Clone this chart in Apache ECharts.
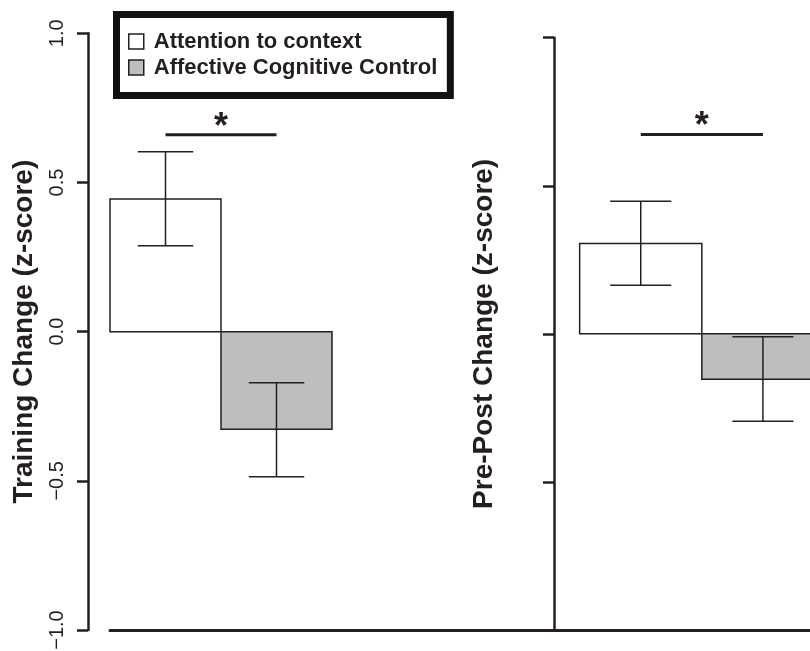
<!DOCTYPE html>
<html>
<head>
    <meta charset="utf-8">
    <title>Training and Pre-Post Change</title>
    <script src="https://cdn.jsdelivr.net/npm/echarts@6/dist/echarts.min.js"></script>
    <style>
        html, body { margin: 0; padding: 0; background: #fff; }
        #main { width: 810px; height: 651px; }
    </style>
</head>
<body>
    <div id="main"></div>
    <script type="text/javascript">
        // groups (legend order) and values
        var groups = ['Attention to context', 'Affective Cognitive Control'];

        var trainMean = [0.445, -0.327];
        var trainLow = [0.288, -0.486];
        var trainHigh = [0.603, -0.171];

        var prePostMean = [0.305, -0.153];
        var prePostLow = [0.164, -0.295];
        var prePostHigh = [0.448, -0.010];

        // significance bars: [from group, to group, height]
        var trainSig = [[0, 1, 0.66]];
        var prePostSig = [[0, 1, 0.673]];

        var yTicks = [-1, -0.5, 0, 0.5, 1];

        // styles
        var ink = '#231f20';
        var fills = ['#ffffff', '#bcbec0'];
        var font = 'Liberation Sans, Arial, Helvetica, sans-serif';

        var myChart = echarts.init(document.getElementById('main'));

        function barItem(params, api) {
            var x = api.value(0);
            var base = api.coord([x, 0]);
            var top = api.coord([x + 1, api.value(1)]);
            var lo = api.coord([x + 0.5, api.value(2)]);
            var hi = api.coord([x + 0.5, api.value(3)]);
            var capL = api.coord([x + 0.25, 0])[0];
            var capR = api.coord([x + 0.75, 0])[0];
            var errStyle = { stroke: ink, lineWidth: 1.5 };
            return {
                type: 'group',
                children: [
                    {
                        type: 'rect',
                        shape: {
                            x: base[0], y: Math.min(base[1], top[1]),
                            width: top[0] - base[0], height: Math.abs(top[1] - base[1])
                        },
                        style: { fill: fills[x], stroke: ink, lineWidth: 1.5 }
                    },
                    { type: 'line', shape: { x1: lo[0], y1: lo[1], x2: hi[0], y2: hi[1] }, style: errStyle },
                    { type: 'line', shape: { x1: capL, y1: lo[1], x2: capR, y2: lo[1] }, style: errStyle },
                    { type: 'line', shape: { x1: capL, y1: hi[1], x2: capR, y2: hi[1] }, style: errStyle }
                ]
            };
        }

        function sigItem(params, api) {
            var a = api.coord([api.value(0) + 0.5, api.value(2)]);
            var b = api.coord([api.value(1) + 0.5, api.value(2)]);
            return {
                type: 'group',
                children: [
                    { type: 'line', shape: { x1: a[0], y1: a[1], x2: b[0], y2: b[1] },
                      style: { stroke: ink, lineWidth: 3 } },
                    { type: 'text', x: (a[0] + b[0]) / 2, y: a[1] - 7,
                      style: { text: '*', fill: ink, font: 'bold 36px ' + font,
                               align: 'center', verticalAlign: 'middle' } }
                ]
            };
        }

        function rows(mean, low, high, g) {
            return [[g, mean[g], low[g], high[g]]];
        }

        var yBase = {
            type: 'value',
            min: yTicks[0],
            max: yTicks[yTicks.length - 1],
            interval: yTicks[1] - yTicks[0],
            splitLine: { show: false },
            axisLine: { show: true, onZero: false, lineStyle: { color: ink, width: 2.5 } },
            axisTick: { show: true, length: 11, lineStyle: { color: ink, width: 2.5 } },
            nameLocation: 'middle',
            nameRotate: 90,
            nameMoveOverlap: false,
            nameTextStyle: { color: ink, fontSize: 28, fontWeight: 'bold', fontFamily: font }
        };

        var xBase = {
            type: 'value',
            splitLine: { show: false },
            axisLabel: { show: false },
            axisTick: { show: false },
            axisLine: { show: true, onZero: false, lineStyle: { color: ink, width: 3 } }
        };

        var series = [];
        [0, 1].forEach(function (g) {
            series.push({
                type: 'custom', name: groups[g], xAxisIndex: 0, yAxisIndex: 0,
                renderItem: barItem, data: rows(trainMean, trainLow, trainHigh, g)
            });
            series.push({
                type: 'custom', name: groups[g], xAxisIndex: 1, yAxisIndex: 1,
                renderItem: barItem, data: rows(prePostMean, prePostLow, prePostHigh, g)
            });
        });
        series.push({ type: 'custom', xAxisIndex: 0, yAxisIndex: 0, renderItem: sigItem, data: trainSig });
        series.push({ type: 'custom', xAxisIndex: 1, yAxisIndex: 1, renderItem: sigItem, data: prePostSig });

        var option = {
            animation: false,
            backgroundColor: '#fff',
            grid: [
                { left: 110, top: 33.3, width: 444, height: 596.7, outerBoundsMode: 'none' },
                { left: 554, top: 37.7, width: 270, height: 592.3, outerBoundsMode: 'none' }
            ],
            xAxis: [
                Object.assign({}, xBase, { gridIndex: 0, min: 0, max: 4 }),
                Object.assign({}, xBase, { gridIndex: 1, min: -0.21, max: 2 })
            ],
            yAxis: [
                Object.assign({}, yBase, {
                    gridIndex: 0,
                    offset: 22,
                    name: 'Training Change (z-score)',
                    nameGap: 50,
                    axisLabel: {
                        show: true, rotate: 90, margin: 21, color: ink,
                        fontSize: 20, fontFamily: font,
                        formatter: function (v) {
                            return (v < 0 ? '\u2212' : '') + Math.abs(v).toFixed(1);
                        }
                    }
                }),
                Object.assign({}, yBase, {
                    gridIndex: 1,
                    name: 'Pre-Post Change (z-score)',
                    nameGap: 56,
                    axisLabel: { show: false }
                })
            ],
            legend: {
                orient: 'vertical',
                left: 116.5,
                top: 14.5,
                padding: [16, 13, 17, 11.5],
                itemGap: 4,
                itemWidth: 15,
                itemHeight: 15,
                icon: 'rect',
                selectedMode: false,
                backgroundColor: '#fff',
                borderColor: '#111',
                borderWidth: 7,
                textStyle: {
                    color: ink, fontSize: 22, fontWeight: 'bold', fontFamily: font,
                    padding: [0, 0, 0, 5]
                },
                data: [
                    { name: groups[0], itemStyle: { color: fills[0], borderColor: ink, borderWidth: 1.5 } },
                    { name: groups[1], itemStyle: { color: fills[1], borderColor: ink, borderWidth: 1.5 } }
                ]
            },
            series: series
        };

        myChart.setOption(option);
    </script>
</body>
</html>
